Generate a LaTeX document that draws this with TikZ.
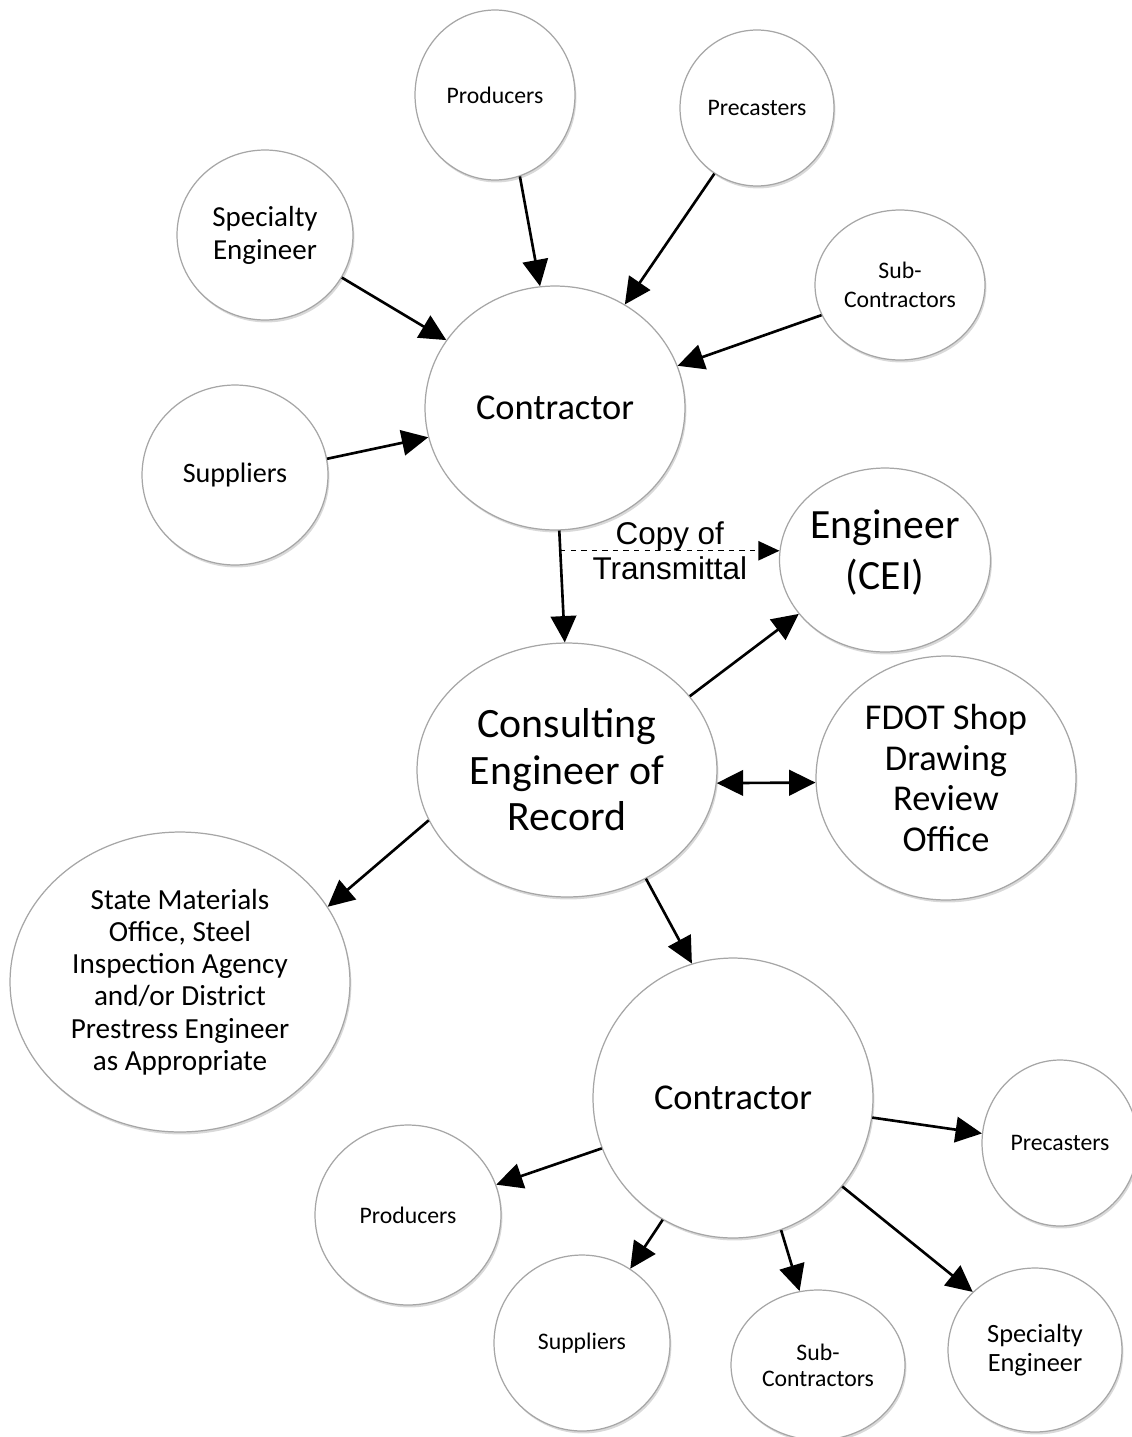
\documentclass[tikz,border=0pt]{standalone}
\usepackage{fontspec}
\setmainfont{Carlito}
\newfontfamily\arialfont{Liberation Sans}
\usetikzlibrary{arrows.meta,shapes.geometric,shadows}
\tikzset{bubble/.style={ellipse,draw=gray!70,line width=0.7pt,fill=white,inner sep=0,align=center,
      drop shadow={shadow xshift=0.8pt,shadow yshift=-1.4pt,opacity=0.3}},
    flow/.style={->,>={Triangle[length=15pt,width=14.5pt]},line width=1.5pt},
    copyflow/.style={->,>={Triangle[length=12pt,width=11pt]},dashed,line width=0.8pt},
    smalltext/.style={font=\fontsize{13.5}{15.5}\selectfont},
    midtext/.style={font=\fontsize{16}{18.3}\selectfont},
    bigtext/.style={font=\fontsize{20.7}{23}\selectfont},
    hugetext/.style={font=\fontsize{23.8}{26.5}\selectfont},
    copytext/.style={font=\arialfont\fontsize{17.9}{20.4}\selectfont,align=center}}

\begin{document}
\begin{tikzpicture}[x=0.02cm,y=-0.02cm]
\useasboundingbox (0,0) rectangle (1132,1437);

% upper group
\node (prod1) [bubble,smalltext,minimum width=3.2cm,minimum height=3.4cm] at (495,95) {Producers};
\node (prec1) [bubble,smalltext,minimum width=3.08cm,minimum height=3.12cm] at (757,108) {Precasters};
\node (spec1) [bubble,midtext,minimum width=3.52cm,minimum height=3.4cm,font=\fontsize{16.5}{18.7}\selectfont] at (265,235) {Specialty\\Engineer};
\node (sub1) [bubble,smalltext,minimum width=3.4cm,minimum height=3.0cm,font=\fontsize{13.5}{16.4}\selectfont] at (900,285) {Sub-\\Contractors};
\node (supp1) [bubble,midtext,minimum width=3.72cm,minimum height=3.6cm] at (235,475) {Suppliers};
\node (contr1) [bubble,bigtext,minimum width=5.2cm,minimum height=4.88cm] at (555,408) {Contractor};

% middle
\node (cei) [bubble,hugetext,minimum width=4.2cm,minimum height=3.68cm,font=\fontsize{23.7}{29}\selectfont] at (885,560) {Engineer\\(CEI)\\[-17pt]};
\node (ceor) [bubble,hugetext,minimum width=6.0cm,minimum height=5.08cm] at (567,770) {Consulting\\Engineer of\\Record};
\node (fdot) [bubble,bigtext,minimum width=5.2cm,minimum height=4.88cm] at (946,778) {FDOT Shop\\Drawing\\Review\\Office};
\node (smo) [bubble,midtext,minimum width=6.8cm,minimum height=6.0cm,font=\fontsize{16.6}{18.3}\selectfont] at (180,982) {State Materials\\Office, Steel\\Inspection Agency\\and/or District\\Prestress Engineer\\as Appropriate};

% lower group
\node (contr2) [bubble,bigtext,minimum width=5.6cm,minimum height=5.6cm] at (733,1098) {Contractor};
\node (prec2) [bubble,smalltext,minimum width=3.12cm,minimum height=3.32cm] at (1060,1143) {Precasters};
\node (prod2) [bubble,smalltext,minimum width=3.72cm,minimum height=3.6cm] at (408,1215) {Producers};
\node (supp2) [bubble,smalltext,minimum width=3.52cm,minimum height=3.52cm] at (582,1343) {Suppliers};
\node (sub2) [bubble,smalltext,minimum width=3.48cm,minimum height=3.0cm,font=\fontsize{13.5}{14.7}\selectfont] at (818,1365) {Sub-\\Contractors};
\node (spec2) [bubble,smalltext,minimum width=3.48cm,minimum height=3.28cm,font=\fontsize{15}{16.4}\selectfont] at (1035,1350) {Specialty\\Engineer};

% into the contractor
\draw [flow] (prod1.-73) -- (contr1.97);
\draw [flow] (prec1.-123) -- (contr1.56);
\draw [flow] (spec1.-29) -- (contr1.148);
\draw [flow] (sub1.-159) -- (contr1.19);
\draw [flow] (supp1.10) -- (contr1.-167);

% transmittal
\draw [flow] (contr1.-88) -- coordinate [pos=0.17] (tap) (ceor.91);
\draw [copyflow] (tap |- cei.175) -- node [copytext] {Copy of\\Transmittal} (cei.175);

\draw [flow] (ceor.31) -- (cei.-148);
\draw [flow,<->] (ceor.-5) -- (fdot.182);
\draw [flow] (ceor.-160) -- (smo.27);
\draw [flow] (ceor.-54) -- (contr2.107);

% out of the contractor
\draw [flow] (contr2.-8) -- (prec2.173);
\draw [flow] (contr2.-159) -- (prod2.19);
\draw [flow] (contr2.-120) -- (supp2.57);
\draw [flow] (contr2.-70) -- (sub2.104);
\draw [flow] (contr2.-39) -- (spec2.137);

\end{tikzpicture}
\end{document}
